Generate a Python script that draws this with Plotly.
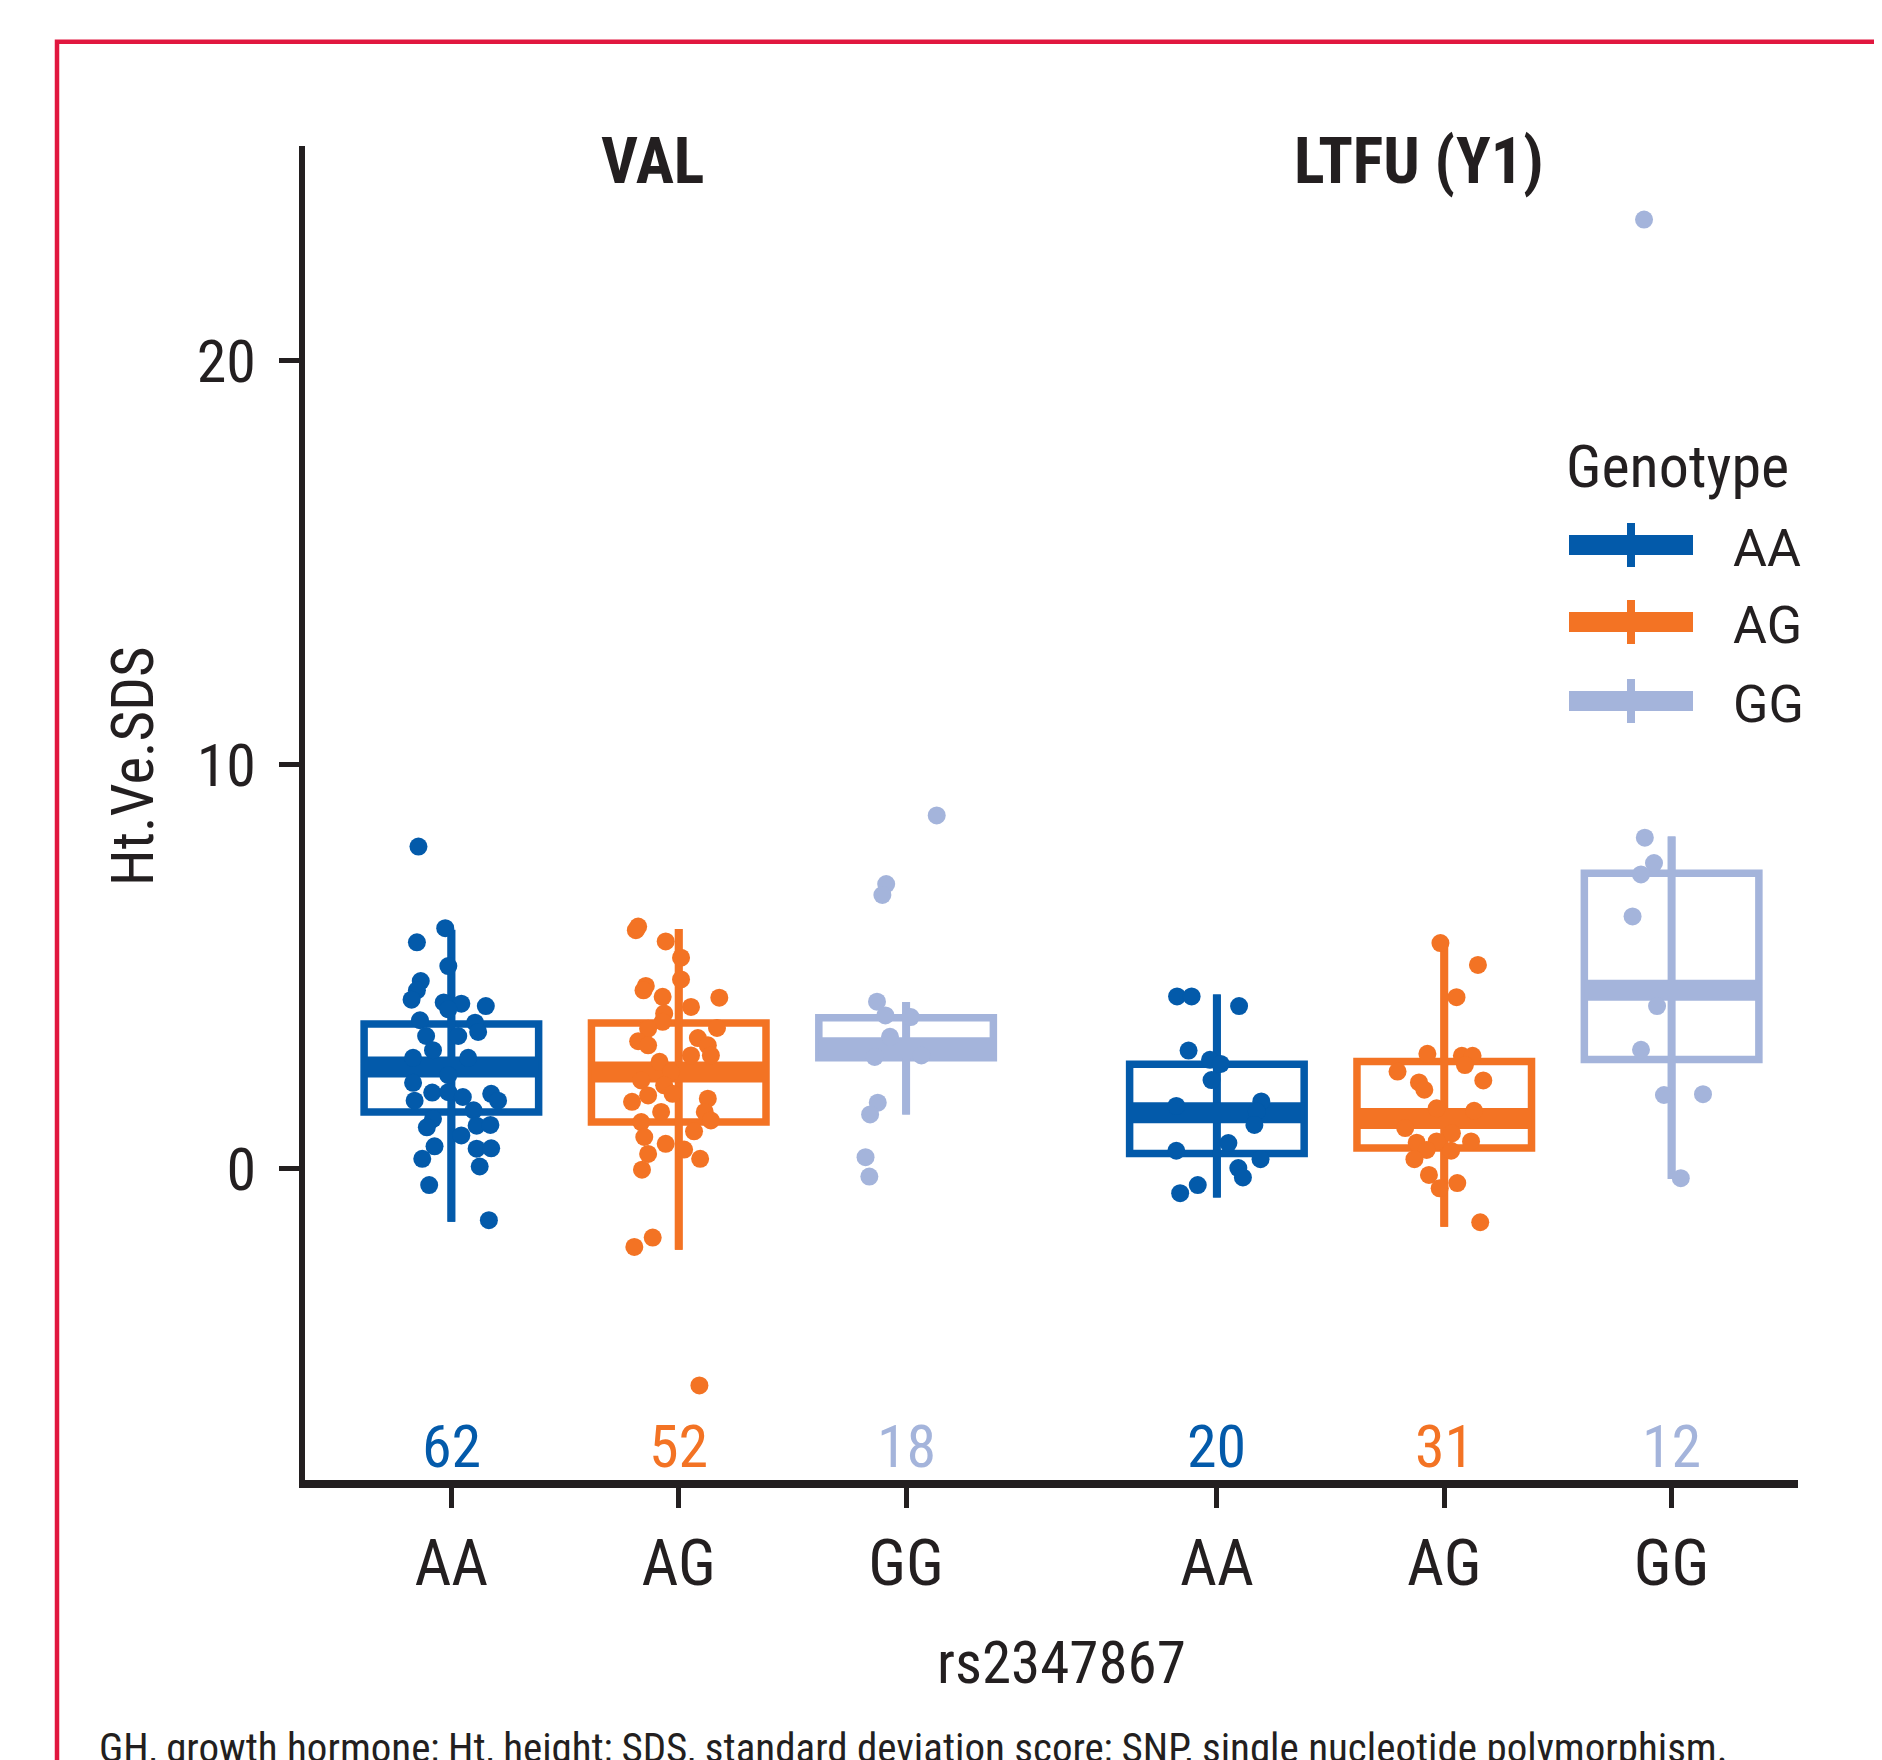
import plotly.graph_objects as go

# ---------------- data ----------------
groups = ["VAL", "LTFU (Y1)"]
group_pos = [1, 2]
genotypes = ["AA", "AG", "GG"]
counts = {"AA": [62, 20], "AG": [52, 31], "GG": [18, 12]}

# box statistics per genotype: [VAL, LTFU]
q1 = {"AA": [1.41, 0.38], "AG": [1.16, 0.52], "GG": [2.75, 2.71]}
med = {"AA": [2.52, 1.39], "AG": [2.40, 1.25], "GG": [3.00, 4.42]}
q3 = {"AA": [3.59, 2.59], "AG": [3.61, 2.66], "GG": [3.74, 7.32]}
lo = {"AA": [-1.31, -0.71], "AG": [-2.00, -1.43], "GG": [1.35, -0.25]}
hi = {"AA": [5.92, 4.32], "AG": [5.94, 5.59], "GG": [4.13, 8.23]}

# individual points: (value, horizontal jitter)
pts = {
    ("VAL", "AA"): [(7.98, -0.043), (5.96, -0.008), (5.61, -0.045), (5.02, -0.004), (4.65, -0.040),
                    (4.42, -0.045), (4.19, -0.052), (4.12, -0.010), (4.09, 0.013), (4.03, 0.045),
                    (3.95, -0.004), (3.68, -0.041), (3.62, 0.031), (3.39, 0.035), (3.29, -0.033),
                    (3.29, 0.009), (2.94, -0.024), (2.75, -0.050), (2.75, 0.022), (2.32, -0.004),
                    (2.13, -0.050), (1.89, -0.025), (1.90, -0.004), (1.78, 0.015), (1.86, 0.052),
                    (1.69, 0.061), (1.69, -0.048), (1.45, 0.029), (1.24, -0.024), (1.03, -0.032),
                    (1.07, 0.033), (1.09, 0.051), (0.83, 0.013), (0.56, -0.022), (0.50, 0.033),
                    (0.51, 0.052), (0.25, -0.038), (0.06, 0.037), (-0.40, -0.029), (-1.27, 0.049)],
    ("VAL", "AG"): [(5.91, -0.056), (6.00, -0.053), (5.63, -0.017), (5.23, 0.003), (4.69, 0.003),
                    (4.53, -0.043), (4.42, -0.046), (4.26, -0.021), (4.24, 0.053), (4.01, 0.016),
                    (3.85, -0.019), (3.64, -0.021), (3.47, -0.040), (3.49, 0.050), (3.16, -0.053),
                    (3.06, -0.040), (3.24, 0.025), (3.06, 0.038), (2.81, 0.042), (2.81, 0.016),
                    (2.65, -0.025), (2.40, -0.010), (2.19, -0.049), (2.07, -0.019), (1.86, -0.008),
                    (1.82, -0.040), (1.66, -0.061), (1.74, 0.038), (1.41, -0.023), (1.41, 0.034),
                    (1.20, 0.042), (1.16, -0.049), (0.93, 0.020), (0.79, -0.045), (0.62, -0.017),
                    (0.48, 0.007), (0.37, -0.040), (0.25, 0.028), (-0.02, -0.048), (-1.70, -0.034),
                    (-1.93, -0.058), (-5.36, 0.027)],
    ("VAL", "GG"): [(8.75, 0.040), (7.05, -0.026), (6.78, -0.031), (4.14, -0.038), (3.80, -0.027),
                    (3.76, 0.006), (3.27, -0.021), (2.77, -0.041), (2.81, 0.020), (1.64, -0.037),
                    (1.35, -0.047), (0.29, -0.053), (-0.19, -0.048)],
    ("LTFU (Y1)", "AA"): [(4.27, -0.052), (4.27, -0.033), (4.03, 0.029), (2.93, -0.037), (2.70, -0.009),
                          (2.60, 0.005), (2.20, -0.007), (1.67, 0.058), (1.56, -0.053), (1.42, 0.052),
                          (1.09, 0.049), (0.64, 0.015), (0.45, -0.053), (0.24, 0.057), (0.02, 0.028),
                          (-0.21, 0.034), (-0.40, -0.025), (-0.60, -0.048)],
    ("LTFU (Y1)", "AG"): [(5.59, -0.005), (5.05, 0.044), (4.25, 0.016), (2.85, -0.022), (2.80, 0.023),
                          (2.80, 0.037), (2.57, 0.027), (2.41, -0.061), (2.19, 0.051), (2.14, -0.033),
                          (1.96, -0.026), (1.50, -0.010), (1.44, 0.039), (1.01, -0.051), (0.88, 0.010),
                          (0.68, 0.035), (0.65, -0.036), (0.68, -0.010), (0.47, -0.023), (0.45, 0.009),
                          (0.24, -0.039), (-0.15, -0.020), (-0.35, 0.017), (-0.48, -0.006), (-1.32, 0.047)],
    ("LTFU (Y1)", "GG"): [(23.5, -0.036), (8.20, -0.035), (7.57, -0.023), (7.29, -0.040), (6.25, -0.051),
                          (4.03, -0.019), (2.95, -0.040), (1.83, -0.010), (1.85, 0.041), (-0.23, 0.012)],
}

y_ticks = [0, 10, 20]
x_title = "rs2347867"
y_title = "Ht.Ve.SDS"
legend_title = "Genotype"
caption = "GH, growth hormone; Ht, height; SDS, standard deviation score; SNP, single nucleotide polymorphism."

# ---------------- style ----------------
colors = {"AA": "#035AAA", "AG": "#F37324", "GG": "#A4B4DB"}
ink = "#231F20"
border_red = "#E1173F"
COND = "Roboto Condensed, Roboto, sans-serif"
REG = "Roboto, sans-serif"

DODGE = 0.297
BOXW = 0.228
offsets = {"AA": -DODGE, "AG": 0.0, "GG": DODGE}

W, H = 1882, 1760
OFF = 8  # page body margin
L, T = 297, 138
R = W - 1790
B = H - 1472
PW, PH = W - L - R, H - T - B


def pxx(px):
    return (px - OFF - L) / PW


def pxy(py):
    return (H - B - (py - OFF)) / PH


fig = go.Figure()

for g in genotypes:
    xs = [p + offsets[g] for p in group_pos]
    c = colors[g]
    fig.add_trace(go.Box(
        x=xs, q1=q1[g], median=med[g], q3=q3[g], lowerfence=lo[g], upperfence=hi[g],
        width=BOXW, whiskerwidth=0, line=dict(color=c, width=7.5),
        fillcolor="rgba(0,0,0,0)", boxpoints=False, hoverinfo="skip", showlegend=False,
    ))
    wx, wy, mx, my = [], [], [], []
    for i, x in enumerate(xs):
        wx += [x, x, None]
        wy += [lo[g][i], hi[g][i], None]
        mx += [x - BOXW / 2, x + BOXW / 2, None]
        my += [med[g][i], med[g][i], None]
    fig.add_trace(go.Scatter(x=wx, y=wy, mode="lines", line=dict(color=c, width=8),
                             hoverinfo="skip", showlegend=False))
    fig.add_trace(go.Scatter(x=mx, y=my, mode="lines", line=dict(color=c, width=21),
                             hoverinfo="skip", showlegend=False))

for g in genotypes:
    px_, py_ = [], []
    for gi, grp in enumerate(groups):
        for v, j in pts[(grp, g)]:
            px_.append(group_pos[gi] + offsets[g] + j)
            py_.append(v)
    fig.add_trace(go.Scatter(x=px_, y=py_, mode="markers",
                             marker=dict(color=colors[g], size=18, line=dict(width=0)),
                             hoverinfo="skip", showlegend=False))

annotations = []
for g in genotypes:
    for gi in range(len(groups)):
        annotations.append(dict(x=group_pos[gi] + offsets[g], y=-6.86, xref="x", yref="y",
                                text=str(counts[g][gi]), showarrow=False,
                                font=dict(family=COND, size=60, color=colors[g]),
                                xanchor="center", yanchor="middle"))
for name, cx in zip(groups, [652, 1419]):
    annotations.append(dict(x=pxx(cx), y=pxy(162), xref="paper", yref="paper",
                            text=f"<b>{name}</b>", showarrow=False,
                            font=dict(family=COND, size=64, color=ink),
                            xanchor="center", yanchor="middle"))
annotations.append(dict(x=pxx(1061), y=pxy(1662), xref="paper", yref="paper", text=x_title,
                        showarrow=False, font=dict(family=COND, size=59, color=ink),
                        xanchor="center", yanchor="middle"))
annotations.append(dict(x=pxx(132), y=pxy(766), xref="paper", yref="paper", text=y_title,
                        textangle=-90, showarrow=False, font=dict(family=COND, size=59, color=ink),
                        xanchor="center", yanchor="middle"))
annotations.append(dict(x=pxx(1564), y=pxy(466), xref="paper", yref="paper", text=legend_title,
                        showarrow=False, font=dict(family=COND, size=60, color=ink),
                        xanchor="left", yanchor="middle"))
leg_y = [545, 622, 701]
shapes = []
for g, ly in zip(genotypes, leg_y):
    annotations.append(dict(x=pxx(1731), y=pxy(ly + 3), xref="paper", yref="paper", text=g,
                            showarrow=False, font=dict(family=REG, size=52, color=ink),
                            xanchor="left", yanchor="middle"))
    shapes.append(dict(type="line", xref="paper", yref="paper", x0=pxx(1569), x1=pxx(1693),
                       y0=pxy(ly), y1=pxy(ly), line=dict(color=colors[g], width=20)))
    shapes.append(dict(type="line", xref="paper", yref="paper", x0=pxx(1631), x1=pxx(1631),
                       y0=pxy(ly - 22), y1=pxy(ly + 22), line=dict(color=colors[g], width=8)))
annotations.append(dict(x=pxx(97), y=pxy(1722), xref="paper", yref="paper", text=caption,
                        showarrow=False, font=dict(family=COND, size=41, color=ink),
                        xanchor="left", yanchor="top"))
shapes.append(dict(type="path", xref="paper", yref="paper", layer="above",
                   path=f"M {pxx(57)} {pxy(1900)} L {pxx(57)} {pxy(41.7)} L {pxx(1960)} {pxy(41.7)}",
                   line=dict(color=border_red, width=4.5)))

tick_pos, tick_txt = [], []
for p in group_pos:
    for g in genotypes:
        tick_pos.append(p + offsets[g])
        tick_txt.append(g)

fig.update_layout(
    width=W, height=H, margin=dict(l=L, r=R, t=T, b=B, pad=0),
    paper_bgcolor="white", plot_bgcolor="white", showlegend=False,
    boxmode="overlay",
    annotations=annotations, shapes=shapes,
    xaxis=dict(range=[0.5118, 2.4621], tickvals=tick_pos, ticktext=tick_txt,
               showgrid=False, zeroline=False, showline=True, linecolor=ink, linewidth=8,
               ticks="outside", ticklen=20, tickwidth=5, tickcolor=ink,
               tickfont=dict(family=COND, size=64, color=ink), ticklabelstandoff=0),
    yaxis=dict(range=[-7.70, 25.32], tickvals=y_ticks, ticktext=[str(t) for t in y_ticks],
               showgrid=False, zeroline=False, showline=True, linecolor=ink, linewidth=6,
               ticks="outside", ticklen=20, tickwidth=5, tickcolor=ink,
               tickfont=dict(family=COND, size=60, color=ink), ticklabelstandoff=11),
)

fig.write_html("out.html")
